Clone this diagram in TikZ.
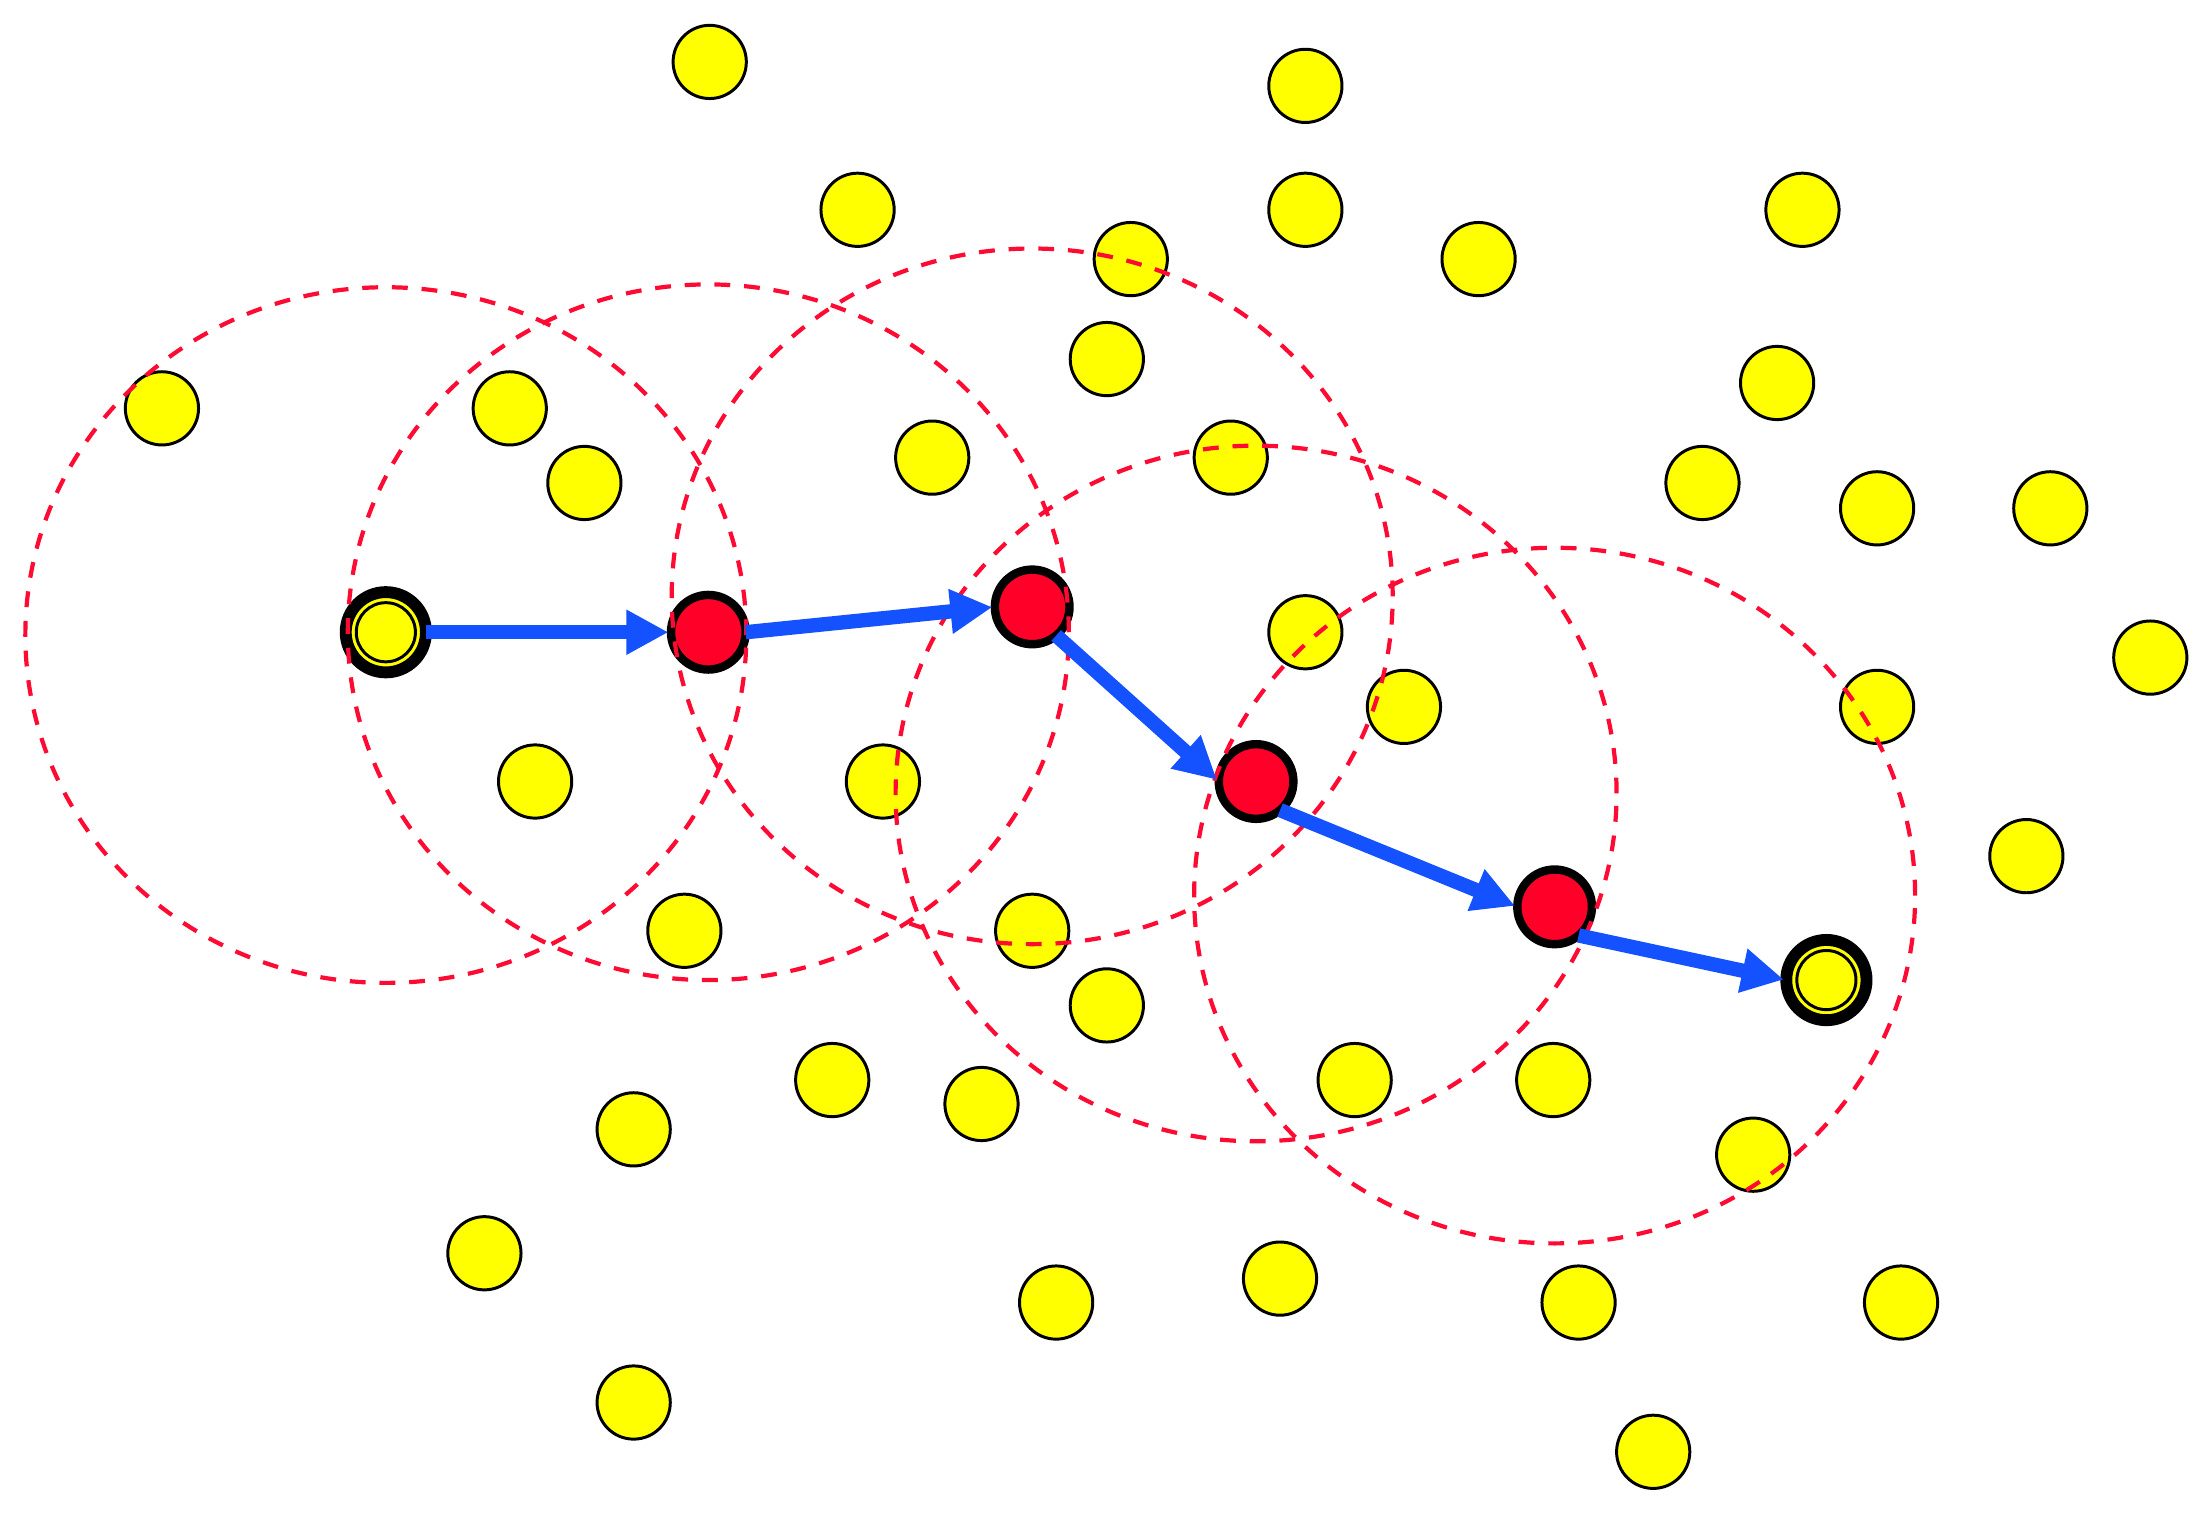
\documentclass[tikz,border=0pt]{standalone}
\usepackage{tikz}
\usepackage{xcolor}
\usetikzlibrary{
    arrows.meta,
    shapes,
    calc
}
\definecolor{nodeyellow}{RGB}{255,255,0}
\definecolor{nodered}{RGB}{255,0,40}
\definecolor{hopblue}{RGB}{20,82,255}
\definecolor{rangered}{RGB}{255,10,50}
\tikzset{%
    >={Triangle[width=8.5pt,length=8.5pt]},
    % Specifications for style of nodes:
    base/.style = {
        circle, draw=black, inner sep=0pt, outer sep=0pt
    },
    sensor/.style = {base, fill=nodeyellow, line width=0.6pt, minimum size=0.52cm},
    relay/.style = {base, fill=nodered, line width=1.7pt, minimum size=0.53cm},
    endpoint/.style = {base, fill=nodeyellow, line width=2.4pt, minimum size=0.57cm,
        path picture={\draw[line width=0.6pt] (path picture bounding box.center) circle (0.21cm);}
    },
    reach/.style = {draw=rangered, line width=0.85pt, dash pattern=on 3.2pt off 2.8pt},
    hop/.style = {->, draw=hopblue, line width=2.9pt, shorten >=0.5pt}
}

\begin{document}
\begin{tikzpicture}
    \useasboundingbox (0,0) rectangle (15.68,10.83);
    % sensor field
    \foreach \px/\py [count=\i] in {5.04/10.39, 9.27/10.22, 6.09/9.34, 9.27/9.34, 12.80/9.34,
            8.03/8.99, 10.50/8.99, 7.86/8.28, 12.62/8.11, 1.15/7.93, 3.62/7.93, 4.15/7.40,
            6.62/7.58, 8.74/7.58, 12.09/7.40, 13.33/7.22, 14.56/7.22, 9.27/6.34, 15.27/6.16,
            9.97/5.81, 13.33/5.81, 3.80/5.28, 6.27/5.28, 14.39/4.75, 4.86/4.22, 7.33/4.22,
            7.86/3.69, 5.91/3.16, 6.97/2.99, 9.62/3.16, 11.03/3.16, 4.50/2.81, 12.45/2.63,
            3.44/1.93, 7.50/1.58, 9.09/1.75, 11.21/1.58, 13.50/1.58, 4.50/0.87, 11.74/0.52}
        \node[sensor] (s\i) at (\px,\py) {};
    % route
    \node[endpoint] (src) at (2.74,6.34) {};
    \node[relay] (r1) at (5.03,6.34) {};
    \node[relay] (r2) at (7.33,6.52) {};
    \node[relay] (r3) at (8.92,5.28) {};
    \node[relay] (r4) at (11.04,4.39) {};
    \node[endpoint] (dst) at (12.97,3.87) {};
    % transmission ranges
    \foreach \n/\dy in {src/-0.02, r1/0, r2/0.075, r3/-0.085, r4/0.08}
        \draw[reach] ($(\n.center)+(0,\dy)$) ellipse [x radius=2.56, y radius=2.47];
    \draw[hop] (src.east) -- (r1.west);
    \draw[hop] (r1.east) -- (r2.west);
    \draw[hop] (r2.-50) -- (r3.west);
    \draw[hop] (r3.-50) -- (r4.west);
    \draw[hop] (r4.-50) -- (dst.west);
\end{tikzpicture}
\end{document}
